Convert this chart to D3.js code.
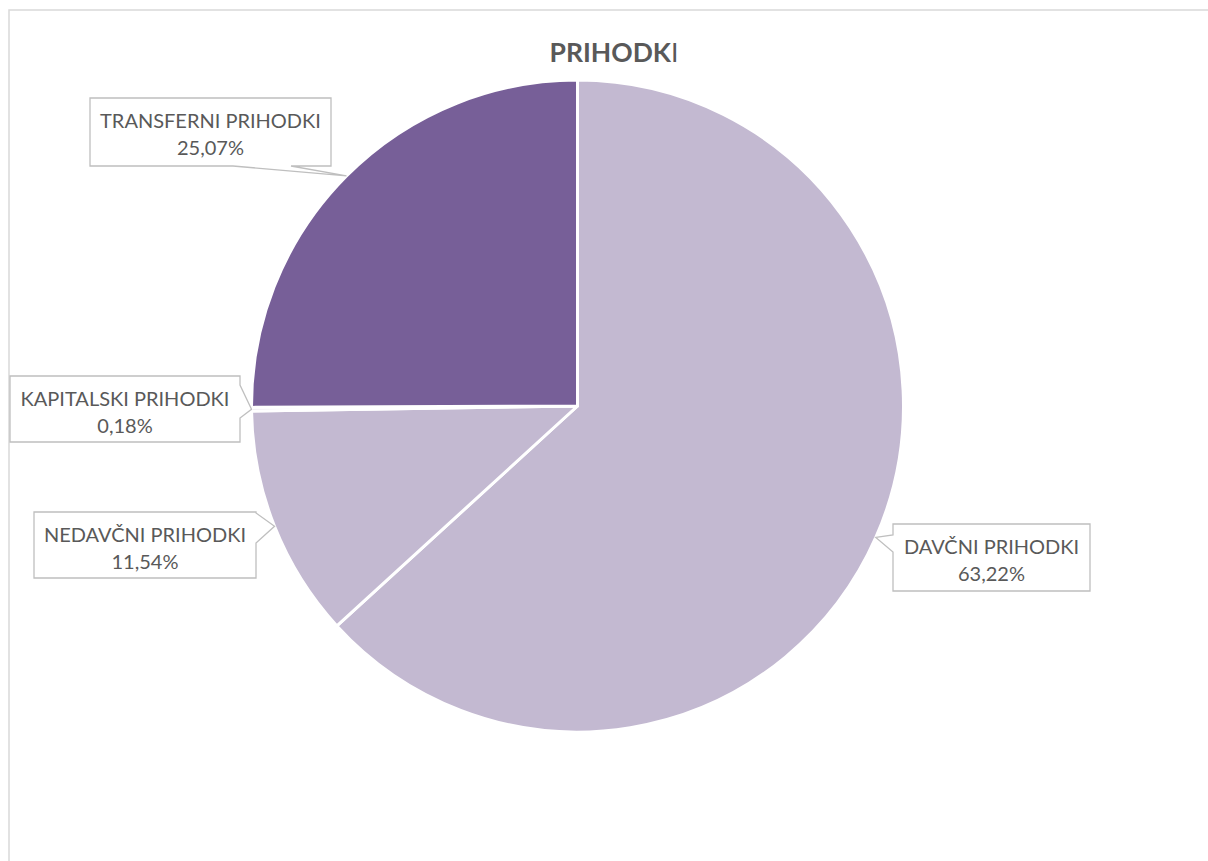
<!DOCTYPE html>
<html>
<head>
<meta charset="utf-8">
<script src="https://cdn.jsdelivr.net/npm/d3@7"></script>
<style>
  body { margin: 0; background: #fff; }
  text { font-family: Lato, "Open Sans", sans-serif; fill: #595959; }
</style>
</head>
<body>
<div id="chart"></div>
<script>
// podatki
const categories = ["DAVČNI PRIHODKI", "NEDAVČNI PRIHODKI", "KAPITALSKI PRIHODKI", "TRANSFERNI PRIHODKI"]
const shares = [63.22, 11.54, 0.18, 25.07]
const colors = ["#C3B9D1", "#C3B9D1", "#E6E1EC", "#775F98"]

// okvirji oznak (x, y, w, h), stran puščice in začetek/konec osnove
const boxes = [
  { x: 893, y: 524, w: 197, h: 67, side: "left", a: 11, b: 28 },
  { x: 34, y: 512, w: 222, h: 66, side: "right", a: 1, b: 31 },
  { x: 10, y: 376, w: 230, h: 66, side: "right", a: 9, b: 42 },
  { x: 90, y: 98, w: 241, h: 68, side: "bottom", a: 143, b: 201 }
]

const width = 1208
const height = 861
const cx = 577.5
const cy = 406
const radius = 326

const svg = d3.select("#chart")
  .append("svg")
  .attr("width", width)
  .attr("height", height)

// okvir grafikona
svg.append("path")
  .attr("d", "M9,861 V10 H1208")
  .attr("fill", "none")
  .attr("stroke", "#D9D9D9")
  .attr("stroke-width", 1.5)

// naslov
const title = svg.append("text")
  .attr("x", 614)
  .attr("y", 62)
  .attr("text-anchor", "middle")
  .style("font-size", "26.5px")
title.append("tspan").style("font-weight", "bold").text("PRIHODK")
title.append("tspan").text("I")

const data = categories.map((c, i) => ({ name: c, value: shares[i], color: colors[i], box: boxes[i] }))

const pie = d3.pie().sort(null).value(d => d.value)
const arcs = pie(data)
const arc = d3.arc().innerRadius(0).outerRadius(radius)
const edge = d3.arc().innerRadius(radius).outerRadius(radius)

const g = svg.append("g").attr("transform", "translate(" + cx + "," + cy + ")")

g.selectAll("path.slice")
  .data(arcs)
  .enter()
  .append("path")
  .attr("class", "slice")
  .attr("d", arc)
  .attr("fill", d => d.data.color)
  .attr("stroke", "#fff")
  .attr("stroke-width", 3)
  .attr("stroke-linejoin", "round")

// oblački z oznakami
function callout(d) {
  const b = d.data.box
  const c = edge.centroid(d)
  const tx = cx + c[0], ty = cy + c[1]
  const x0 = b.x, y0 = b.y, x1 = b.x + b.w, y1 = b.y + b.h
  if (b.side == "left") {
    return `M${x0},${y0} H${x1} V${y1} H${x0} V${y0 + b.b} L${tx},${ty} L${x0},${y0 + b.a} Z`
  }
  if (b.side == "right") {
    return `M${x0},${y0} H${x1} V${y0 + b.a} L${tx},${ty} L${x1},${y0 + b.b} V${y1} H${x0} Z`
  }
  // bottom
  return `M${x0},${y0} H${x1} V${y1} H${x0 + b.b} L${tx},${ty} L${x0 + b.a},${y1} H${x0} Z`
}

const labels = svg.append("g")
  .selectAll("g")
  .data(arcs)
  .enter()
  .append("g")

labels.append("path")
  .attr("d", callout)
  .attr("fill", "#fff")
  .attr("stroke", "#BFBFBF")
  .attr("stroke-width", 1.3)

labels.append("text")
  .attr("x", d => d.data.box.x + d.data.box.w / 2)
  .attr("y", d => d.data.box.y + 30)
  .attr("text-anchor", "middle")
  .style("font-size", "20px")
  .text(d => d.data.name)

labels.append("text")
  .attr("x", d => d.data.box.x + d.data.box.w / 2)
  .attr("y", d => d.data.box.y + 57)
  .attr("text-anchor", "middle")
  .style("font-size", "20px")
  .text(d => d.data.value.toFixed(2).replace(".", ",") + "%")
</script>
</body>
</html>
